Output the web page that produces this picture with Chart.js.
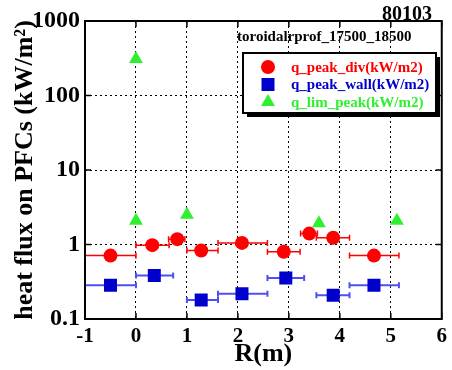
<!DOCTYPE html>
<html>
<head>
<meta charset="utf-8">
<script src="https://cdn.jsdelivr.net/npm/chart.js@4/dist/chart.umd.min.js"></script>
<style>
  body { margin: 0; background: #fff; }
  #wrap { width: 452px; height: 370px; position: relative; }
</style>
</head>
<body>
<div id="wrap"><canvas id="fluxChart"></canvas></div>
<script>
// divertor peaks: R position, R range (error bar) and heat flux
const divR    = [-0.5, 0.32, 0.81, 1.28, 2.08, 2.90, 3.40, 3.87, 4.67];
const divRmin = [-1.0, 0.0, 0.64, 1.0, 1.61, 2.58, 3.23, 3.54, 4.19];
const divRmax = [0.0, 0.65, 0.96, 1.61, 2.58, 3.22, 3.56, 4.19, 5.16];
const divQ    = [0.71, 0.98, 1.18, 0.83, 1.05, 0.80, 1.40, 1.23, 0.71];

const wallR    = [-0.5, 0.36, 1.28, 2.08, 2.94, 3.87, 4.67];
const wallRmin = [-1.0, 0.0, 1.0, 1.61, 2.58, 3.54, 4.19];
const wallRmax = [0.0, 0.73, 1.61, 2.58, 3.30, 4.19, 5.16];
const wallQ    = [0.283, 0.385, 0.18, 0.219, 0.355, 0.208, 0.283];

const limR = [0.0, 0.0, 1.0, 3.59, 5.12];
const limQ = [310, 2.08, 2.5, 1.93, 2.08];

const xTicks = [-1, 0, 1, 2, 3, 4, 5, 6];
const yTicks = [0.1, 1, 10, 100, 1000];
const yTickLabels = ['0.1', '1', '10', '100', '1000'];

const shotNo = '80103';
const runName = 'toroidalrprof_17500_18500';

const serif = '"Liberation Serif", "Times New Roman", serif';
const RED = '#ff0000', BLUE = '#0000cc', GREEN = '#2ef02e';

const toPts = (xs, ys) => xs.map((x, i) => ({ x: x, y: ys[i] }));

const errBars = [
  { r: divR, lo: divRmin, hi: divRmax, q: divQ, color: RED, width: 1.5 },
  { r: wallR, lo: wallRmin, hi: wallRmax, q: wallQ, color: '#4f4ff2', width: 2 }
];

const errorBarPlugin = {
  id: 'errorBars',
  beforeDatasetsDraw(chart) {
    const { ctx, scales: { x, y } } = chart;
    ctx.save();
    errBars.forEach(b => {
      ctx.strokeStyle = b.color;
      ctx.lineWidth = b.width;
      b.q.forEach((q, i) => {
        const py = y.getPixelForValue(q);
        const x1 = x.getPixelForValue(b.lo[i]);
        const x2 = x.getPixelForValue(b.hi[i]);
        ctx.beginPath();
        ctx.moveTo(x1, py); ctx.lineTo(x2, py);
        ctx.moveTo(x1, py - 3); ctx.lineTo(x1, py + 3);
        ctx.moveTo(x2, py - 3); ctx.lineTo(x2, py + 3);
        ctx.stroke();
      });
    });
    ctx.restore();
  }
};

const framePlugin = {
  id: 'frame',
  afterDraw(chart) {
    const { ctx, chartArea: a, scales: { x, y } } = chart;
    ctx.save();
    ctx.strokeStyle = '#000';
    ctx.lineWidth = 2;
    ctx.strokeRect(a.left, a.top, a.right - a.left, a.bottom - a.top);
    // inward tick marks
    ctx.lineWidth = 1.5;
    ctx.beginPath();
    xTicks.forEach(v => {
      const px = x.getPixelForValue(v);
      ctx.moveTo(px, a.bottom); ctx.lineTo(px, a.bottom - 6);
      ctx.moveTo(px, a.top); ctx.lineTo(px, a.top + 6);
    });
    yTicks.forEach(v => {
      const py = y.getPixelForValue(v);
      ctx.moveTo(a.left, py); ctx.lineTo(a.left + 6, py);
      ctx.moveTo(a.right, py); ctx.lineTo(a.right - 6, py);
    });
    ctx.stroke();

    // shot number and run name
    ctx.fillStyle = '#000';
    ctx.textBaseline = 'alphabetic';
    ctx.textAlign = 'right';
    ctx.font = 'bold 20px ' + serif;
    ctx.fillText(shotNo, 432, 20);
    ctx.textAlign = 'left';
    ctx.font = 'bold 15px ' + serif;
    ctx.fillText(runName, 237, 41);

    // legend box with shadow
    const bx = 243, by = 53, bw = 193, bh = 60;
    ctx.fillStyle = '#000';
    ctx.fillRect(bx + 4, by + 4, bw, bh);
    ctx.fillStyle = '#fff';
    ctx.fillRect(bx, by, bw, bh);
    ctx.lineWidth = 2;
    ctx.strokeRect(bx, by, bw, bh);
    ctx.font = 'bold 15px ' + serif;
    ctx.textBaseline = 'middle';
    chart.data.datasets.forEach((ds, i) => {
      const ly = 67 + i * 17.5;
      ctx.fillStyle = ds.backgroundColor;
      ctx.beginPath();
      if (ds.pointStyle === 'circle') ctx.arc(268, ly, 7, 0, Math.PI * 2);
      else if (ds.pointStyle === 'rect') ctx.rect(261.5, ly - 6.5, 13, 13);
      else { ctx.moveTo(268, ly - 8); ctx.lineTo(275, ly + 4); ctx.lineTo(261, ly + 4); ctx.closePath(); }
      ctx.fill();
      ctx.fillText(ds.label, 291, ly + 1);
    });
    ctx.restore();
  }
};

new Chart(document.getElementById('fluxChart'), {
  type: 'scatter',
  data: {
    datasets: [
      { label: 'q_peak_div(kW/m2)', data: toPts(divR, divQ), pointStyle: 'circle',
        pointRadius: 7, backgroundColor: RED, borderColor: RED, borderWidth: 0 },
      { label: 'q_peak_wall(kW/m2)', data: toPts(wallR, wallQ), pointStyle: 'rect',
        pointRadius: 9.2, backgroundColor: BLUE, borderColor: BLUE, borderWidth: 0 },
      { label: 'q_lim_peak(kW/m2)', data: toPts(limR, limQ), pointStyle: 'triangle',
        pointRadius: 8, backgroundColor: GREEN, borderColor: GREEN, borderWidth: 0 }
    ]
  },
  options: {
    responsive: true,
    maintainAspectRatio: false,
    animation: false,
    layout: { padding: { top: 21, right: 9, left: 0, bottom: 0 } },
    plugins: { legend: { display: false }, tooltip: { enabled: false } },
    scales: {
      x: {
        type: 'linear', min: -1, max: 6,
        afterBuildTicks: s => { s.ticks = xTicks.map(v => ({ value: v })); },
        afterFit: s => { s.height = 51; },
        ticks: { color: '#000', font: { family: serif, size: 21, weight: 'bold' }, padding: 5, maxRotation: 0 },
        grid: { color: '#000', lineWidth: 1, drawTicks: false },
        border: { display: false, dash: [2, 3] },
        title: { display: true, text: 'R(m)', color: '#000',
          font: { family: serif, size: 26, weight: 'bold' }, padding: { top: 0, bottom: 0 } }
      },
      y: {
        type: 'logarithmic', min: 0.1, max: 1000,
        afterBuildTicks: s => { s.ticks = yTicks.map(v => ({ value: v, major: true })); },
        afterFit: s => { s.width = 85; },
        ticks: { color: '#000', font: { family: serif, size: 24, weight: 'bold' }, padding: 5,
          callback: (v) => yTickLabels[yTicks.indexOf(v)] },
        grid: { color: '#000', lineWidth: 1, drawTicks: false },
        border: { display: false, dash: [2, 3] },
        title: { display: true, text: 'heat flux on PFCs (kW/m²)', color: '#000',
          font: { family: serif, size: 26, weight: 'bold' }, padding: { top: 10, bottom: 0 } }
      }
    }
  },
  plugins: [errorBarPlugin, framePlugin]
});
</script>
</body>
</html>
